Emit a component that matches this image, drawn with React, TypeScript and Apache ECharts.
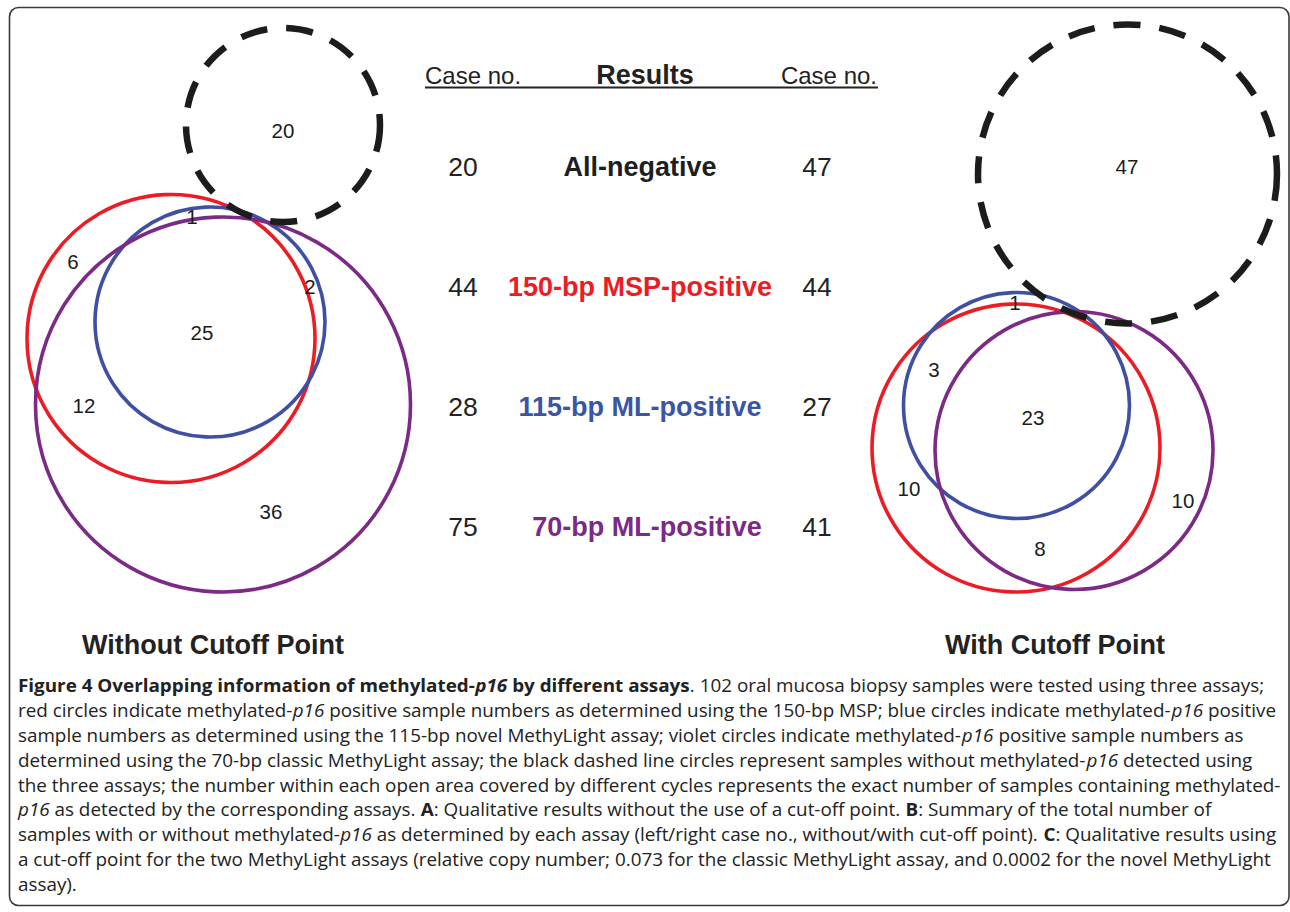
import React, { useEffect, useRef } from "react";
import * as echarts from "echarts";

// ---------- data ----------
// set order: 150-bp MSP (red), 115-bp ML (blue), 70-bp ML (violet), all-negative (black dashed)
const setColors = ["#ED1C24", "#3F4FA2", "#7B2A86", "#1C1C1C"];

// Venn circles [centre x, centre y, radius] in figure units
const leftCircles = [
  [171, 338.5, 144],
  [210, 322, 115],
  [223, 404.5, 187.5],
  [283, 125, 97],
];
const rightCircles = [
  [1016, 448, 144],
  [1016.5, 405.5, 113],
  [1074, 450.5, 139],
  [1127.5, 174, 149.5],
];

// region counts and where they sit
const leftRegionCounts = [20, 1, 6, 2, 25, 12, 36];
const leftRegionPos = [[283, 130], [192, 216], [73, 261], [310, 286], [202, 332], [84, 405], [271, 511]];
const rightRegionCounts = [47, 1, 3, 23, 10, 10, 8];
const rightRegionPos = [[1127, 166], [1015, 302], [934, 369], [1033, 417], [909, 488], [1183, 500], [1040, 548]];

// summary table
const resultLabels = ["All-negative", "150-bp MSP-positive", "115-bp ML-positive", "70-bp ML-positive"];
const resultColors = ["#1E1E1E", "#ED1C24", "#3A55A5", "#7B2A86"];
const caseNoWithout = [20, 44, 28, 75];
const caseNoWith = [47, 44, 27, 41];
const headerTexts = ["Case no.", "Results", "Case no."];
const panelTitles = ["Without Cutoff Point", "With Cutoff Point"];

const captionLines = [
  "{b|Figure 4 Overlapping information of methylated-}{bi|p16}{b| by different assays}. 102 oral mucosa biopsy samples were tested using three assays;",
  "red circles indicate methylated-{i|p16} positive sample numbers as determined using the 150-bp MSP; blue circles indicate methylated-{i|p16} positive",
  "sample numbers as determined using the 115-bp novel MethyLight assay; violet circles indicate methylated-{i|p16} positive sample numbers as",
  "determined using the 70-bp classic MethyLight assay; the black dashed line circles represent samples without methylated-{i|p16} detected using",
  "the three assays; the number within each open area covered by different cycles represents the exact number of samples containing methylated-",
  "{i|p16} as detected by the corresponding assays. {b|A}: Qualitative results without the use of a cut-off point. {b|B}: Summary of the total number of",
  "samples with or without methylated-{i|p16} as determined by each assay (left/right case no., without/with cut-off point). {b|C}: Qualitative results using",
  "a cut-off point for the two MethyLight assays (relative copy number; 0.073 for the classic MethyLight assay, and 0.0002 for the novel MethyLight",
  "assay).",
];

// ---------- layout ----------
const W = 1290;
const H = 912;
const SANS = '"Liberation Sans", Arial, sans-serif';
const CAP_FONT = '"Open Sans", "Noto Sans", sans-serif';
const CAP_SIZE = 18.5;
const CAP_X = 18;
const CAP_RIGHT = 1276;
const CAP_Y0 = 685;
const CAP_LH = 24.8;
const INK = "#222222";

function measureRich(line: string, size: number): number {
  const ctx = document.createElement("canvas").getContext("2d");
  if (!ctx) return 1;
  const re = /\{(\w+)\|([^}]*)\}|([^{]+)/g;
  let w = 0;
  let m: RegExpExecArray | null;
  while ((m = re.exec(line))) {
    const st = m[1] || "n";
    const txt = m[1] ? m[2] : m[3];
    const wt = st === "b" || st === "bi" ? "bold " : "";
    const it = st === "i" || st === "bi" ? "italic " : "";
    ctx.font = `${it}${wt}${size}px ${CAP_FONT}`;
    w += ctx.measureText(txt).width;
  }
  return w;
}

export default function App() {
  const ref = useRef<HTMLDivElement>(null);
  useEffect(() => {
    const el = ref.current;
    if (!el) return;
    const chart = echarts.init(el, null, { renderer: "svg" });

    const circleData = [
      ...leftCircles.map((c, k) => [c[0], c[1], c[2], k]),
      ...rightCircles.map((c, k) => [c[0], c[1], c[2], k]),
    ];
    // draw dashed circles last
    circleData.sort((a, b) => (a[3] === 3 ? 1 : 0) - (b[3] === 3 ? 1 : 0));

    const regionData = [
      ...leftRegionCounts.map((v, i) => [leftRegionPos[i][0], leftRegionPos[i][1], v]),
      ...rightRegionCounts.map((v, i) => [rightRegionPos[i][0], rightRegionPos[i][1], v]),
    ];

    // caption scale (fit full lines to the text block width)
    const ratios = [0, 1, 4, 6, 7].map((i) => (CAP_RIGHT - CAP_X) / measureRich(captionLines[i], CAP_SIZE));
    ratios.sort((a, b) => a - b);
    const capScale = ratios[2];

    const capBase = { fontFamily: CAP_FONT, fontSize: CAP_SIZE, color: INK };
    const graphics: any[] = [];

    graphics.push({
      type: "rect",
      shape: { x: 9.5, y: 7.5, width: 1279.5, height: 898, r: 9 },
      style: { fill: "none", stroke: "#3a3a3a", lineWidth: 1.6 },
      silent: true,
    });

    // table header
    const headerX = [425, 645, 877];
    const headerAlign = ["left", "center", "right"];
    headerTexts.forEach((t, i) => {
      graphics.push({
        type: "text",
        x: headerX[i],
        y: 75,
        style: {
          text: t,
          fontFamily: SANS,
          fontSize: i === 1 ? 27 : 24,
          fontWeight: i === 1 ? "bold" : "normal",
          fill: INK,
          align: headerAlign[i],
          verticalAlign: "middle",
        },
      });
    });
    graphics.push({
      type: "line",
      shape: { x1: 425, y1: 87.5, x2: 878, y2: 87.5 },
      style: { stroke: INK, lineWidth: 2.2 },
    });

    // table rows
    const labelCx = [640, 640, 640, 647];
    resultLabels.forEach((lab, i) => {
      const y = 167 + 120 * i;
      graphics.push({
        type: "text",
        x: 463,
        y,
        style: { text: String(caseNoWithout[i]), fontFamily: SANS, fontSize: 26.5, fill: INK, align: "center", verticalAlign: "middle" },
      });
      graphics.push({
        type: "text",
        x: labelCx[i],
        y,
        style: { text: lab, fontFamily: SANS, fontSize: 27, fontWeight: "bold", fill: resultColors[i], align: "center", verticalAlign: "middle" },
      });
      graphics.push({
        type: "text",
        x: 817,
        y,
        style: { text: String(caseNoWith[i]), fontFamily: SANS, fontSize: 26.5, fill: INK, align: "center", verticalAlign: "middle" },
      });
    });

    // panel titles
    const titleX = [213, 1055];
    panelTitles.forEach((t, i) => {
      graphics.push({
        type: "text",
        x: titleX[i],
        y: 645,
        style: { text: t, fontFamily: SANS, fontSize: 27, fontWeight: "bold", fill: INK, align: "center", verticalAlign: "middle" },
      });
    });

    // caption
    captionLines.forEach((line, i) => {
      graphics.push({
        type: "text",
        x: CAP_X,
        y: CAP_Y0 + CAP_LH * i,
        scaleX: capScale,
        style: {
          text: line,
          ...capBase,
          fill: INK,
          align: "left",
          verticalAlign: "middle",
          rich: {
            b: { ...capBase, fontWeight: "bold" },
            i: { ...capBase, fontStyle: "italic" },
            bi: { ...capBase, fontWeight: "bold", fontStyle: "italic" },
          },
        },
      });
    });

    chart.setOption({
      animation: false,
      backgroundColor: "#ffffff",
      grid: { left: 0, right: 0, top: 0, bottom: 0 },
      xAxis: { type: "value", min: 0, max: W, show: false },
      yAxis: { type: "value", min: 0, max: H, inverse: true, show: false },
      series: [
        {
          type: "custom",
          clip: false,
          data: circleData,
          encode: { x: 0, y: 1 },
          renderItem: (params: any, api: any) => {
            const c = api.coord([api.value(0), api.value(1)]);
            const r = api.size([api.value(2), 0])[0];
            const k = api.value(3);
            const dashed = k === 3;
            return {
              type: "circle",
              shape: { cx: c[0], cy: c[1], r },
              style: {
                fill: "none",
                stroke: setColors[k],
                lineWidth: dashed ? 6.5 : 3.6,
                lineDash: dashed ? [27, 19] : null,
              },
            };
          },
          silent: true,
          z: 2,
        },
        {
          type: "scatter",
          data: regionData,
          symbolSize: 0,
          itemStyle: { color: "transparent" },
          label: {
            show: true,
            position: [0, 0],
            align: "center",
            verticalAlign: "middle",
            formatter: (p: any) => String(p.value[2]),
            fontFamily: SANS,
            fontSize: 20.5,
            color: "#1c1c1c",
            textBorderWidth: 0,
            opacity: 1,
          },
          silent: true,
          z: 3,
        },
      ],
      graphic: graphics,
    });

    return () => chart.dispose();
  }, []);

  return (
    <div
      ref={ref}
      style={{ position: "fixed", left: 0, top: 0, width: W, height: H, background: "#fff" }}
    />
  );
}
